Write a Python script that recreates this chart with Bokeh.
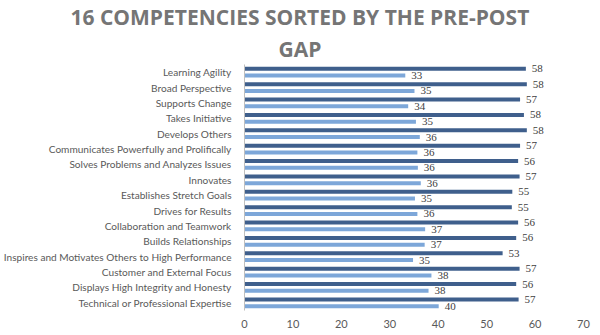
from bokeh.plotting import figure
from bokeh.models import ColumnDataSource, FactorRange, LabelSet, Title
from bokeh.transform import dodge
from bokeh.embed import file_html
from bokeh.resources import INLINE

categories = [
    "Learning Agility", "Broad Perspective", "Supports Change", "Takes Initiative",
    "Develops Others", "Communicates Powerfully and Prolifically",
    "Solves Problems and Analyzes Issues", "Innovates", "Establishes Stretch Goals",
    "Drives for Results", "Collaboration and Teamwork", "Builds Relationships",
    "Inspires and Motivates Others to High Performance", "Customer and External Focus",
    "Displays High Integrity and Honesty", "Technical or Professional Expertise",
]
post_values = [58.1, 58.3, 56.9, 57.7, 58.3, 56.9, 56.5, 56.8, 55.3, 55.2, 56.5, 56.1, 53.3, 56.8, 56.1, 56.6]
pre_values = [33.2, 35.1, 33.8, 35.4, 36.2, 35.7, 35.8, 36.4, 35.2, 35.7, 37.3, 37.2, 34.8, 38.6, 38.0, 40.1]
post_labels = ["58", "58", "57", "58", "58", "57", "56", "57", "55", "55", "56", "56", "53", "57", "56", "57"]
pre_labels = ["33", "35", "34", "35", "36", "36", "36", "36", "35", "36", "37", "37", "35", "38", "38", "40"]
x_ticks = [0, 10, 20, 30, 40, 50, 60, 70]
title_lines = ["16 COMPETENCIES SORTED BY THE PRE-POST", "GAP"]

src = ColumnDataSource(dict(cat=categories, post=post_values, pre=pre_values,
                            post_lbl=post_labels, pre_lbl=pre_labels))

p = figure(width=600, height=335, output_backend="svg", toolbar_location=None,
           y_range=FactorRange(factors=categories[::-1]), x_range=(0, 70),
           min_border_left=4, min_border_right=17, min_border_top=0, min_border_bottom=25)
p.outline_line_color = None
p.background_fill_color = "white"
p.border_fill_color = "white"
p.xgrid.grid_line_color = None
p.ygrid.grid_line_color = None

DARK = "#3f5f8c"
LIGHT = "#7da7d9"
OFF = 0.22
H = 0.26

p.hbar(y=dodge("cat", OFF, range=p.y_range), right="post", left=0, height=H,
       source=src, fill_color=DARK, line_color=None)
p.hbar(y=dodge("cat", -OFF, range=p.y_range), right="pre", left=0, height=H,
       source=src, fill_color=LIGHT, line_color=None)

p.add_layout(LabelSet(x="post", y=dodge("cat", OFF, range=p.y_range), text="post_lbl",
                      source=src, x_offset=6, text_baseline="middle",
                      text_font="Lato", text_font_size="11px", text_color="#404040"))
p.add_layout(LabelSet(x="pre", y=dodge("cat", -OFF, range=p.y_range), text="pre_lbl",
                      source=src, x_offset=6, text_baseline="middle",
                      text_font="Lato", text_font_size="11px", text_color="#404040"))

p.xaxis.ticker = x_ticks
p.xaxis.axis_line_color = None
p.xaxis.major_tick_line_color = None
p.xaxis.minor_tick_line_color = None
p.xaxis.major_label_text_font = "Lato"
p.xaxis.major_label_text_font_size = "11px"
p.xaxis.major_label_text_color = "#595959"
p.xaxis.major_label_standoff = 3

p.yaxis.axis_line_color = "#bfbfbf"
p.yaxis.major_tick_line_color = None
p.yaxis.minor_tick_line_color = None
p.yaxis.major_label_text_font = "Lato"
p.yaxis.major_label_text_font_size = "10.1px"
p.yaxis.major_label_text_color = "#595959"
p.yaxis.major_label_standoff = 7

p.add_layout(Title(text=title_lines[1], align="left", offset=34,
                   text_font="Open Sans", text_font_style="bold", text_font_size="21px",
                   text_color="#757575", standoff=4), "above")
p.add_layout(Title(text=title_lines[0], align="left", offset=-174,
                   text_font="Open Sans", text_font_style="bold", text_font_size="21px",
                   text_color="#757575", standoff=0, text_line_height=1.15), "above")

open("out.html", "w").write(file_html(p, INLINE))
